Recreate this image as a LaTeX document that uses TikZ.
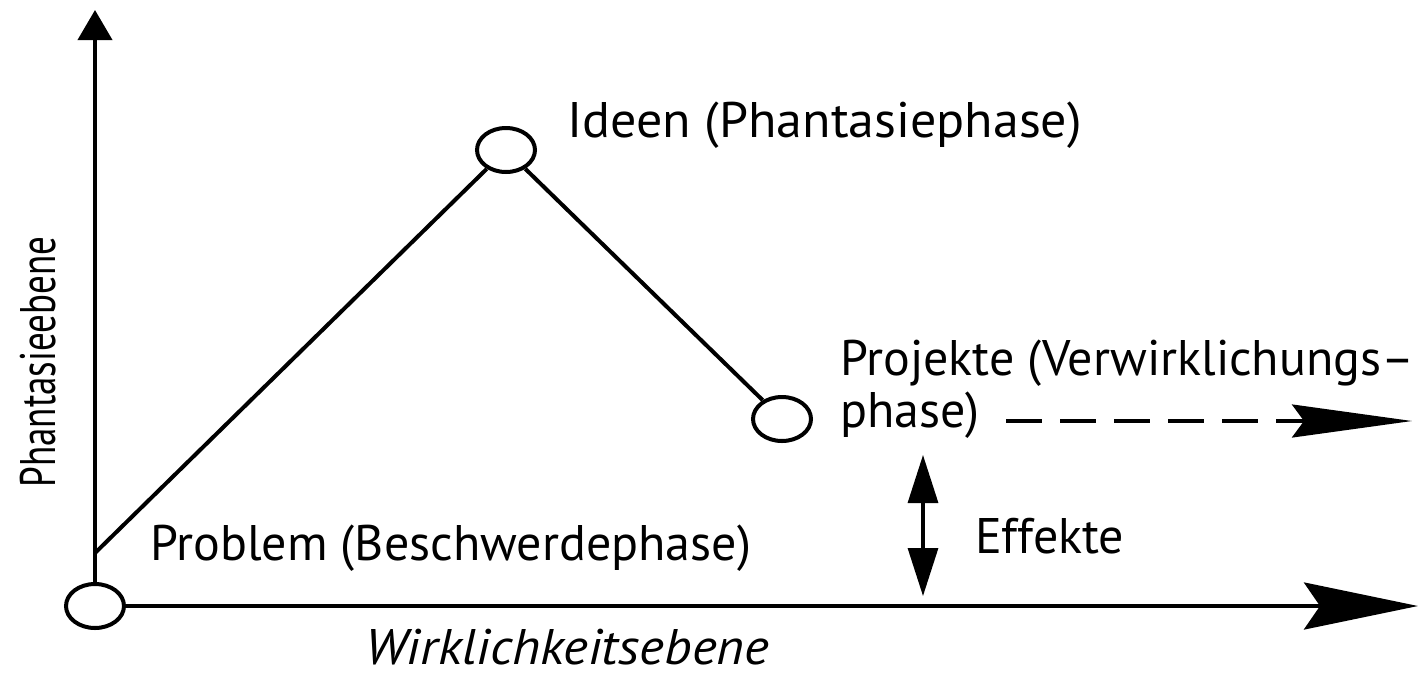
\documentclass[tikz,border=0pt]{standalone}
\usepackage{fontspec}
\setmainfont{PT Sans}
\usetikzlibrary{arrows.meta,shapes.geometric}
\begin{document}
\begin{tikzpicture}[x=0.5pt,y=-0.5pt,
  line width=2pt,
  phasecircle/.style={draw,ellipse,minimum width=29pt,minimum height=22pt,inner sep=0pt,line width=2pt},
  lbl/.style={anchor=base west,inner sep=0pt,font=\fontsize{25}{30}\selectfont},
  axisarrow/.style={-{Stealth[length=57pt,width=23.5pt,inset=8pt]}},
  yarrow/.style={-{Triangle[length=15pt,width=17pt]}},
  effarrow/.style={{Triangle[length=24pt,width=15pt]}-{Triangle[length=24pt,width=15pt]},line width=1.6pt},
  dasharrow/.style={dash pattern=on 18pt off 9pt,-{Stealth[length=60pt,width=16.5pt,inset=6pt]},line width=1.6pt}
]
\useasboundingbox (0,0) rectangle (1426,676);
% circles
\node[phasecircle] (p) at (95,606) {};
\node[phasecircle] (i) at (506,150) {};
\node[phasecircle] (j) at (782,419) {};
% axes
\coordinate (ytop) at (95,10);
\coordinate (xend) at (1418,606);
\draw[yarrow] (p.north) -- (ytop);
\draw[axisarrow] (p.east) -- (xend);
% phase lines
\coordinate (start) at (95,553);
\draw (start) -- (i);
\draw (i) -- (j);
% dashed arrow
\coordinate (dstart) at (1006,421);
\coordinate (dend) at (1412,421);
\draw[dasharrow] (dstart) -- (dend);
% effects arrow
\coordinate (etop) at (923,455);
\coordinate (ebot) at (923,596);
\draw[effarrow] (etop) -- (ebot);
% labels
\node[lbl] (ti) at (565,137) {\scalebox{1.04}[1]{Ideen (Phantasiephase)}};
\node[lbl] (tj1) at (838,375) {Projekte (Verwirklichungs–};
\node[lbl] (tj2) at (838,427) {phase)};
\node[lbl] (tp) at (148,560) {Problem (Beschwerdephase)};
\node[lbl] (te) at (973,553) {Effekte};
\node[lbl,font=\fontsize{25}{30}\selectfont\itshape] (tx) at (363,664) {\scalebox{1.065}[1]{Wirklichkeitsebene}};
\node[anchor=base,inner sep=0pt,rotate=90,font=\fontsize{25}{30}\selectfont] (ty) at (55,362) {\scalebox{0.74}[1]{Phantasieebene}};
\end{tikzpicture}
\end{document}
